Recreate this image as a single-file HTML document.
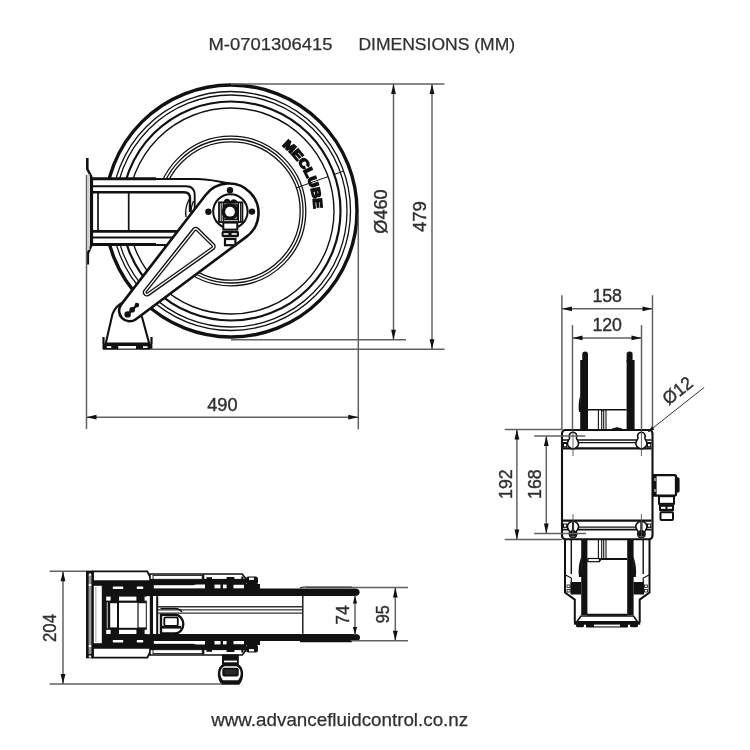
<!DOCTYPE html>
<html><head><meta charset="utf-8"><style>
html,body{margin:0;padding:0;background:#fff;}
svg{display:block;font-family:"Liberation Sans",sans-serif;will-change:transform;}
</style></head><body>
<svg width="750" height="750" viewBox="0 0 750 750">
<rect width="750" height="750" fill="#fff"/>
<circle cx="231" cy="211" r="126" fill="none" stroke="#111" stroke-width="3.4"/>
<circle cx="231" cy="211" r="119.5" fill="none" stroke="#111" stroke-width="1.3"/>
<circle cx="231" cy="211" r="116" fill="none" stroke="#111" stroke-width="1.3"/>
<circle cx="231" cy="211" r="109.5" fill="none" stroke="#111" stroke-width="2.2"/>
<circle cx="231" cy="211" r="103" fill="none" stroke="#111" stroke-width="1.4"/>
<circle cx="231" cy="211" r="74.8" fill="none" stroke="#111" stroke-width="1.3"/>
<circle cx="231" cy="211" r="72" fill="none" stroke="#111" stroke-width="1.3"/>
<circle cx="231" cy="211" r="69.2" fill="none" stroke="#111" stroke-width="1.3"/>
<line x1="296.0" y1="188.0" x2="328.1" y2="176.6" stroke="#111" stroke-width="1"/>
<line x1="334.2" y1="174.4" x2="343.6" y2="171.1" stroke="#111" stroke-width="1"/>
<path id="arcT" d="M277.30,142.36 A82.8,82.8 0 0 1 312.54,225.38" fill="none"/>
<text font-size="12.4" font-weight="bold" fill="#111" stroke="#111" stroke-width="1.5"><textPath href="#arcT" startOffset="5.5" textLength="73" lengthAdjust="spacingAndGlyphs">MECLUBE</textPath></text>
<path d="M87.3,158 V169 L91.2,176.5 V245.5 L87.8,253.5 V264.5" fill="none" stroke="#111" stroke-width="2.6"/>
<line x1="88.6" y1="174" x2="88.6" y2="250" stroke="#d0d0d0" stroke-width="2"/>
<path d="M92,179 H198 C210,179.4 220,181.5 229,183.6 L231,211 L168,245 H92 Z" fill="#fff" stroke="#111" stroke-width="2.2"/>
<line x1="91" y1="178.7" x2="156" y2="178.7" stroke="#111" stroke-width="3"/>
<line x1="91" y1="244.4" x2="156" y2="244.4" stroke="#111" stroke-width="2.8"/>
<path d="M92,186.2 H186 Q194.7,186.2 194.7,195 V212" fill="none" stroke="#111" stroke-width="1.9"/>
<path d="M92,192.2 H184 Q190,192.2 190,198 V212" fill="none" stroke="#111" stroke-width="2.4"/>
<line x1="98" y1="192" x2="98" y2="231.4" stroke="#111" stroke-width="1.7"/>
<line x1="128.7" y1="192" x2="128.7" y2="231.4" stroke="#111" stroke-width="1.7"/>
<line x1="92" y1="231.4" x2="185" y2="231.4" stroke="#111" stroke-width="2.8"/>
<line x1="92" y1="237.6" x2="185" y2="237.6" stroke="#111" stroke-width="2"/>
<path d="M189,199.5 Q184.6,208 186,217 M193.5,201 Q190.5,208 191.2,214" fill="none" stroke="#111" stroke-width="1.3"/>
<path d="M105.7,343.5 L112.5,314 Q116,305 124,302 L142,317 L149.2,343.5 Z" fill="#fff" stroke="#111" stroke-width="2.1"/>
<rect x="102.5" y="343.7" width="49.9" height="6" rx="1" fill="#111"/>
<rect x="118.3" y="346" width="17.7" height="2.6" fill="#fff"/>
<rect x="106.8" y="346.2" width="4.5" height="1.8" fill="#fff"/>
<rect x="143" y="346.2" width="4.5" height="1.8" fill="#fff"/>
<path d="M103.5,337 V344 M151.5,337 V344" stroke="#111" stroke-width="2.2"/>
<path d="M121.28,304.39 L205.64,194.99 A29.5,29.5 0 1 1 246.63,236.65 L135.88,319.22 A10.5,10.5 0 0 1 121.28,304.39 Z" fill="#fff" stroke="#111" stroke-width="2.6"/>
<polygon points="147.00,292.30 195.80,231.00 211.50,246.50" fill="none" stroke="#111" stroke-width="8.5" stroke-linejoin="round"/>
<polygon points="147.00,292.30 195.80,231.00 211.50,246.50" fill="none" stroke="#fff" stroke-width="5.7" stroke-linejoin="round"/>
<polygon points="147.00,292.30 195.80,231.00 211.50,246.50" fill="#fff" stroke="#111" stroke-width="3" stroke-linejoin="round"/>
<polygon points="147.00,292.30 195.80,231.00 211.50,246.50" fill="#fff" stroke="#fff" stroke-width="0.6" stroke-linejoin="round"/>
<line x1="127.6" y1="314.4" x2="136.9" y2="305.1" stroke="#111" stroke-width="2.2"/>
<circle cx="127.6" cy="314.4" r="3.2" fill="#111"/>
<circle cx="132.2" cy="309.7" r="2.8" fill="#111"/>
<circle cx="136.9" cy="305.1" r="2.3" fill="#111"/>
<circle cx="230.4" cy="211.4" r="17.2" fill="#fff" stroke="#111" stroke-width="2"/>
<circle cx="230" cy="190.2" r="3.2" fill="#111"/>
<circle cx="208.4" cy="211.8" r="3.2" fill="#111"/>
<circle cx="252" cy="211.6" r="3.2" fill="#111"/>
<rect x="223.3" y="222.6" width="14" height="7" fill="#fff" stroke="#111" stroke-width="2"/>
<rect x="221.6" y="230.8" width="17.4" height="6.4" rx="2" fill="#111"/>
<rect x="223.6" y="233.2" width="4.8" height="1.6" fill="#fff"/><rect x="231.6" y="233.2" width="5.2" height="1.6" fill="#fff"/>
<rect x="225" y="239" width="10.4" height="6.2" fill="#fff" stroke="#111" stroke-width="2.2"/>
<rect x="219" y="202.4" width="23.4" height="19.6" fill="#fff" stroke="#111" stroke-width="1.8"/>
<path d="M221.2,203 V221.5 M223.5,203 V221.5 M238.5,203 V221.5 M240.6,203 V221.5" stroke="#111" stroke-width="1.1"/>
<path d="M223,203.5 Q224,198.5 227.5,198.8 Q229.5,199 230.5,201 Q232,198.6 235,199.5 Q238,200.5 238.3,203.5 Z" fill="#111"/>
<circle cx="230.0" cy="211.70000000000002" r="8.4" fill="#111"/>
<rect x="223.4" y="205" width="14" height="14.5" fill="none" stroke="#111" stroke-width="1.6"/>
<circle cx="230.0" cy="211.70000000000002" r="4.9" fill="#fff"/>
<rect x="580.2" y="360" width="7.7999999999999545" height="69.5" fill="#111"/>
<rect x="582.3" y="351.6" width="5.7000000000000455" height="12" rx="2.8" fill="#111"/>
<rect x="626.6" y="360" width="8.0" height="69.5" fill="#111"/>
<rect x="626.6" y="351.6" width="6.0" height="12" rx="2.8" fill="#111"/>
<path d="M580.4,395 Q577.8,403 579,412 L581,412 Z" fill="#111"/>
<path d="M588,409.8 H601.5 Q602.4,411 603.3,409.8 H626.6" fill="none" stroke="#111" stroke-width="1.6"/>
<line x1="598.4" y1="410" x2="598.4" y2="429" stroke="#111" stroke-width="1.1"/>
<line x1="601.7" y1="410" x2="601.7" y2="429" stroke="#111" stroke-width="1.1"/>
<line x1="603.7" y1="410" x2="603.7" y2="429" stroke="#111" stroke-width="1.1"/>
<line x1="606.0" y1="410" x2="606.0" y2="429" stroke="#111" stroke-width="1.1"/>
<path d="M612,429 Q617,426.5 622,429" fill="#111" stroke="#111" stroke-width="1"/>
<rect x="562" y="430" width="90.5" height="109.2" rx="3.5" fill="#fff" stroke="#111" stroke-width="2.1"/>
<line x1="563" y1="440" x2="651.5" y2="440" stroke="#111" stroke-width="1.6"/>
<line x1="563" y1="442.6" x2="651.5" y2="442.6" stroke="#111" stroke-width="1.3"/>
<line x1="563" y1="448.4" x2="651.5" y2="448.4" stroke="#111" stroke-width="2.3"/>
<line x1="563" y1="520.7" x2="651.5" y2="520.7" stroke="#111" stroke-width="2.3"/>
<line x1="563" y1="527.1" x2="651.5" y2="527.1" stroke="#111" stroke-width="1.3"/>
<line x1="563" y1="529.6" x2="651.5" y2="529.6" stroke="#111" stroke-width="1.6"/>
<rect x="563.5" y="443.5" width="3.2" height="3.2" fill="#fff" stroke="#111" stroke-width="1"/>
<rect x="563.5" y="524" width="3.2" height="3.2" fill="#fff" stroke="#111" stroke-width="1"/>
<rect x="647.5" y="443.5" width="3.2" height="3.2" fill="#fff" stroke="#111" stroke-width="1"/>
<rect x="647.5" y="524" width="3.2" height="3.2" fill="#fff" stroke="#111" stroke-width="1"/>
<path d="M569.5,437.5 A3.8,3.8 0 1 1 576.5,437.5 Q576.2,439.3 577.6,440.5 A5.4,5.4 0 1 1 568.4,440.5 Q569.8,439.3 569.5,437.5 Z" fill="#fff" stroke="#111" stroke-width="1.6"/>
<line x1="573.0" y1="431" x2="573.0" y2="456" stroke="#555" stroke-width="0.9"/>
<path d="M569.5,532.5 A3.8,3.8 0 1 0 576.5,532.5 Q576.2,530.7 577.6,529.5 A5.4,5.4 0 1 0 568.4,529.5 Q569.8,530.7 569.5,532.5 Z" fill="#fff" stroke="#111" stroke-width="1.6"/>
<circle cx="573.0" cy="533.4" r="3.3" fill="#111"/>
<rect x="571.9" y="520" width="2.2" height="12" fill="#111"/>
<line x1="573.0" y1="514" x2="573.0" y2="539" stroke="#555" stroke-width="0.9"/>
<path d="M637.9,437.5 A3.8,3.8 0 1 1 644.9,437.5 Q644.6,439.3 646.0,440.5 A5.4,5.4 0 1 1 636.8,440.5 Q638.1999999999999,439.3 637.9,437.5 Z" fill="#fff" stroke="#111" stroke-width="1.6"/>
<line x1="641.4" y1="431" x2="641.4" y2="456" stroke="#555" stroke-width="0.9"/>
<path d="M637.9,532.5 A3.8,3.8 0 1 0 644.9,532.5 Q644.6,530.7 646.0,529.5 A5.4,5.4 0 1 0 636.8,529.5 Q638.1999999999999,530.7 637.9,532.5 Z" fill="#fff" stroke="#111" stroke-width="1.6"/>
<circle cx="641.4" cy="533.4" r="3.3" fill="#111"/>
<rect x="640.3" y="520" width="2.2" height="12" fill="#111"/>
<line x1="641.4" y1="514" x2="641.4" y2="539" stroke="#555" stroke-width="0.9"/>
<rect x="675" y="477.3" width="4.6" height="15.2" rx="1.6" fill="#111"/>
<path d="M653,475.2 H674.5 Q676,475.2 676,476.7 V494 Q676,495.6 674.5,495.6 H653" fill="#fff" stroke="#111" stroke-width="2.3"/>
<rect x="653" y="474.5" width="3.6" height="21.5" fill="#111"/>
<rect x="654.5" y="478" width="1" height="3" fill="#fff"/><rect x="654.5" y="489" width="1" height="3" fill="#fff"/>
<rect x="659" y="496.2" width="15" height="7.6" fill="#fff" stroke="#111" stroke-width="2"/>
<rect x="659" y="504.3" width="15" height="7" rx="1" fill="#111"/>
<rect x="661" y="506.8" width="4.5" height="2" fill="#fff"/><rect x="667.5" y="506.8" width="4.5" height="2" fill="#fff"/>
<rect x="660.5" y="512.3" width="12.5" height="7.6" rx="1" fill="#fff" stroke="#111" stroke-width="2"/>
<path d="M565,540 V592.6 L574.8,599.6 V622.5" fill="none" stroke="#111" stroke-width="2"/>
<path d="M649.5,540 V592.6 L639.7,599.6 V622.5" fill="none" stroke="#111" stroke-width="2"/>
<path d="M571.3,540 V574 M643.2,540 V574" stroke="#111" stroke-width="1.4"/>
<path d="M565.5,575 L571.3,578 V590 M649,575 L643.2,578 V590" fill="none" stroke="#111" stroke-width="1.2"/>
<rect x="570.5" y="582" width="10.5" height="12.5" fill="#111"/>
<rect x="633.5" y="582" width="10.5" height="12.5" fill="#111"/>
<rect x="567" y="585" width="3" height="2.5" fill="#fff" stroke="#111" stroke-width="0.8"/><rect x="567" y="589.5" width="3" height="2.5" fill="#fff" stroke="#111" stroke-width="0.8"/>
<rect x="644.5" y="585" width="3" height="2.5" fill="#fff" stroke="#111" stroke-width="0.8"/><rect x="644.5" y="589.5" width="3" height="2.5" fill="#fff" stroke="#111" stroke-width="0.8"/>
<rect x="581.2" y="540" width="6.2" height="75" fill="#111"/>
<rect x="627.2" y="540" width="6.4" height="75" fill="#111"/>
<path d="M581.5,556 Q577.5,566 579,577 L582,577 Z" fill="#111"/>
<path d="M633.3,556 Q637,566 635.8,577 L633,577 Z" fill="#111"/>
<path d="M587.4,560.5 H599.5 L601,559 H627.2" fill="none" stroke="#111" stroke-width="2"/>
<rect x="588" y="558.5" width="11.5" height="3.2" fill="#fff" stroke="#111" stroke-width="1.2"/>
<line x1="598.4" y1="540" x2="598.4" y2="558.5" stroke="#111" stroke-width="1.1"/>
<line x1="601.7" y1="540" x2="601.7" y2="558.5" stroke="#111" stroke-width="1.1"/>
<line x1="603.7" y1="540" x2="603.7" y2="558.5" stroke="#111" stroke-width="1.1"/>
<line x1="606.0" y1="540" x2="606.0" y2="558.5" stroke="#111" stroke-width="1.1"/>
<line x1="587" y1="614.7" x2="627.5" y2="614.7" stroke="#111" stroke-width="2"/>
<path d="M581,616 H633.5 L637.5,621.7 H576.8 Z" fill="#fff" stroke="#111" stroke-width="1.6"/>
<rect x="574" y="621.5" width="66.2" height="3.2" fill="#111"/>
<rect x="576" y="623.5" width="8" height="3.8" rx="1.5" fill="#111"/>
<rect x="630" y="623.5" width="8" height="3.8" rx="1.5" fill="#111"/>
<rect x="586" y="623.5" width="42" height="4" rx="1" fill="#111"/>
<rect x="594" y="624.6" width="26" height="1.8" fill="#fff"/>
<rect x="86" y="570.6" width="7.00" height="87.70" rx="0" fill="#111"/>
<rect x="88.6" y="575" width="2.80" height="79.00" rx="0" fill="#9a9a9a"/>
<rect x="88.8" y="573.5" width="2.40" height="2.00" rx="0" fill="#fff"/>
<rect x="88.8" y="584" width="2.40" height="2.00" rx="0" fill="#fff"/>
<rect x="88.8" y="645" width="2.40" height="2.00" rx="0" fill="#fff"/>
<rect x="88.8" y="655.5" width="2.40" height="2.00" rx="0" fill="#fff"/>
<rect x="93" y="579.6" width="60.00" height="69.80" rx="0" fill="#111"/>
<polygon points="93,571.4 147.3,571.4 152.4,581.2 93,581.2" fill="#fff" stroke="#111" stroke-width="1.9"/>
<polygon points="93,657.6 147.3,657.6 152.4,647.8 93,647.8" fill="#fff" stroke="#111" stroke-width="1.9"/>
<rect x="93.8" y="585.8" width="8.00" height="57.40" rx="0" fill="#fff"/>
<rect x="95.2" y="587" width="1.30" height="55.00" rx="0" fill="#bbb"/>
<rect x="112.7" y="586.4" width="10.60" height="2.60" rx="1" fill="#fff"/>
<rect x="112.7" y="640" width="10.60" height="2.60" rx="1" fill="#fff"/>
<rect x="136.7" y="586.4" width="6.60" height="2.60" rx="1" fill="#fff"/>
<rect x="136.7" y="640" width="6.60" height="2.60" rx="1" fill="#fff"/>
<rect x="106.2" y="596.6" width="4.40" height="4.00" rx="0" fill="#fff"/>
<rect x="119.0" y="596.6" width="17.40" height="4.00" rx="0" fill="#fff"/>
<rect x="144.6" y="596.6" width="4.60" height="4.00" rx="0" fill="#fff"/>
<rect x="106.2" y="629.8" width="4.40" height="4.20" rx="0" fill="#fff"/>
<rect x="119.0" y="629.8" width="17.40" height="4.20" rx="0" fill="#fff"/>
<rect x="144.6" y="629.8" width="4.60" height="4.20" rx="0" fill="#fff"/>
<rect x="110.2" y="603.2" width="6.80" height="24.20" rx="0" fill="#fff"/>
<rect x="119.0" y="602.8" width="18.40" height="25.00" rx="0" fill="#fff"/>
<rect x="138.6" y="603.2" width="7.20" height="24.20" rx="0" fill="#fff"/>
<rect x="106.7" y="602.2" width="1.20" height="26.00" rx="0" fill="#aaa"/>
<rect x="146.8" y="596.2" width="3.00" height="38.00" rx="0" fill="#fff"/>
<rect x="153.0" y="596.2" width="3.20" height="38.00" rx="0" fill="#fff"/>
<rect x="156.2" y="596.2" width="2.00" height="38.00" rx="0" fill="#111"/>
<g><path d="M150,574 H242.2 L245.2,577.8 V589.5 H150 Z" fill="#fff" stroke="#111" stroke-width="1.6"/><rect x="150" y="578.9" width="96" height="5.6" fill="#111"/><rect x="150" y="584" width="96" height="5.6" fill="#111"/><rect x="153" y="575.4" width="49.2" height="3.9" fill="#fff" stroke="#111" stroke-width="0.9"/><rect x="153.8" y="585.2" width="39.20" height="3.60" fill="#fff"/><rect x="214.5" y="584.6" width="6.00" height="4.00" fill="#fff"/><rect x="223" y="584.6" width="3.60" height="4.00" fill="#fff"/><rect x="233.5" y="584.8" width="12.00" height="3.80" fill="#fff"/><path d="M193,585.2 Q195,584.4 197,584.4 H205 V588.8 H193 Z" fill="#fff"/><rect x="202.3" y="574.5" width="2.00" height="4.50" fill="#111"/><rect x="206.5" y="577.2" width="5.50" height="2.30" fill="#111"/><rect x="226.6" y="577" width="7.80" height="2.50" fill="#111"/><rect x="241.3" y="576.5" width="2.20" height="2.50" fill="#111"/><rect x="246" y="576.4" width="12" height="8" rx="2.5" fill="#111"/><rect x="249" y="577.6" width="5" height="2.3" fill="#fff"/><rect x="244" y="584" width="16" height="5.6" fill="#111"/></g>
<g transform="translate(0 1229.0) scale(1 -1)"><path d="M150,574 H242.2 L245.2,577.8 V589.5 H150 Z" fill="#fff" stroke="#111" stroke-width="1.6"/><rect x="150" y="578.9" width="96" height="5.6" fill="#111"/><rect x="150" y="584" width="96" height="5.6" fill="#111"/><rect x="153" y="575.4" width="49.2" height="3.9" fill="#fff" stroke="#111" stroke-width="0.9"/><rect x="153.8" y="585.2" width="39.20" height="3.60" fill="#fff"/><rect x="214.5" y="584.6" width="6.00" height="4.00" fill="#fff"/><rect x="223" y="584.6" width="3.60" height="4.00" fill="#fff"/><rect x="233.5" y="584.8" width="12.00" height="3.80" fill="#fff"/><path d="M193,585.2 Q195,584.4 197,584.4 H205 V588.8 H193 Z" fill="#fff"/><rect x="202.3" y="574.5" width="2.00" height="4.50" fill="#111"/><rect x="206.5" y="577.2" width="5.50" height="2.30" fill="#111"/><rect x="226.6" y="577" width="7.80" height="2.50" fill="#111"/><rect x="241.3" y="576.5" width="2.20" height="2.50" fill="#111"/><rect x="246" y="576.4" width="12" height="8" rx="2.5" fill="#111"/><rect x="249" y="577.6" width="5" height="2.3" fill="#fff"/><rect x="244" y="584" width="16" height="5.6" fill="#111"/></g>
<path d="M150,588.6 H355 Q359.6,588.6 359.6,592.3 Q359.6,596 355,596 H150 Z" fill="#111"/>
<path d="M150,634.1 H355.5 Q360,634.1 360,637.6 Q360,641.1 355.5,641.1 H150 Z" fill="#111"/>
<path d="M300,588 Q303,586.6 307,587.2 H352 M300,641.6 H352" fill="none" stroke="#111" stroke-width="1.2"/>
<line x1="158" y1="606.7" x2="302.5" y2="606.7" stroke="#333" stroke-width="1.5"/>
<line x1="158" y1="609.9" x2="302.5" y2="609.9" stroke="#333" stroke-width="1.3"/>
<line x1="158" y1="613.1" x2="302.5" y2="613.1" stroke="#333" stroke-width="1.3"/>
<line x1="302.8" y1="596" x2="302.8" y2="633.8" stroke="#111" stroke-width="1.4"/>
<path d="M161,614.8 H175 A8.3,9.3 0 0 1 175,633.4 H161 Z" fill="#fff" stroke="#111" stroke-width="2.4"/>
<rect x="164.3" y="617.4" width="13.5" height="8.4" rx="1.5" fill="#fff" stroke="#111" stroke-width="1.8"/>
<rect x="162" y="625.8" width="19.00" height="2.80" rx="0" fill="#111"/>
<path d="M160.5,608.5 H176 Q180,609 182,612" fill="none" stroke="#111" stroke-width="1.3"/>
<rect x="161.6" y="602" width="3.40" height="4.00" rx="0" fill="#fff"/>
<rect x="222" y="654.5" width="16.80" height="10.30" rx="0" fill="#111"/>
<rect x="224" y="660.6" width="13.00" height="1.70" rx="0" fill="#fff"/>
<path d="M223.5,663.8 H237.5 C244.5,666.5 245,678.5 239.2,684.8 H221.8 C216,678.5 216.5,666.5 223.5,663.8 Z" fill="#111"/>
<path d="M224.5,666.3 H236.5 C241.5,668.5 242,676 238,680.2 H223 C219,676 219.5,668.5 224.5,666.3 Z" fill="#fff"/>
<rect x="222.3" y="667.8" width="16.40" height="8.60" rx="2" fill="#111"/>
<rect x="224.5" y="669.4" width="12.00" height="5.20" rx="1" fill="#2a2a2a"/>
<text x="208.5" y="50" font-size="17.2" fill="#303030" text-anchor="start" font-weight="normal" textLength="124" lengthAdjust="spacingAndGlyphs"  stroke="#303030" stroke-width="0.25">M-0701306415</text>
<text x="358.4" y="50" font-size="17.2" fill="#303030" text-anchor="start" font-weight="normal" textLength="156.7" lengthAdjust="spacingAndGlyphs"  stroke="#303030" stroke-width="0.25">DIMENSIONS (MM)</text>
<text x="211.2" y="725.7" font-size="18.6" fill="#303030" text-anchor="start" font-weight="normal" textLength="257" lengthAdjust="spacingAndGlyphs"  stroke="#303030" stroke-width="0.25">www.advancefluidcontrol.co.nz</text>
<line x1="231" y1="84" x2="444.4" y2="84" stroke="#626262" stroke-width="1.5" />
<line x1="231" y1="339.7" x2="406" y2="339.7" stroke="#626262" stroke-width="1.5" />
<line x1="150" y1="349.3" x2="444.5" y2="349.3" stroke="#626262" stroke-width="1.5" />
<line x1="393.5" y1="84" x2="393.5" y2="339.7" stroke="#626262" stroke-width="1.5" />
<polygon points="393.50,84.00 395.90,94.00 391.10,94.00" fill="#111"/>
<polygon points="393.50,339.70 391.10,329.70 395.90,329.70" fill="#111"/>
<line x1="432" y1="84" x2="432" y2="349.3" stroke="#626262" stroke-width="1.5" />
<polygon points="432.00,84.00 434.40,94.00 429.60,94.00" fill="#111"/>
<polygon points="432.00,349.30 429.60,339.30 434.40,339.30" fill="#111"/>
<line x1="358.3" y1="215" x2="358.3" y2="429.4" stroke="#626262" stroke-width="1.5" />
<line x1="86.5" y1="175" x2="86.5" y2="429" stroke="#626262" stroke-width="1.5" />
<line x1="86.5" y1="417.2" x2="358.3" y2="417.2" stroke="#626262" stroke-width="1.5" />
<polygon points="86.50,417.20 96.50,414.80 96.50,419.60" fill="#111"/>
<polygon points="358.30,417.20 348.30,419.60 348.30,414.80" fill="#111"/>
<text transform="translate(387.2 211.5) rotate(-90)" x="0" y="0" font-size="18.6" fill="#303030" text-anchor="middle" font-weight="normal" textLength="44.5" lengthAdjust="spacingAndGlyphs"  stroke="#303030" stroke-width="0.4">Ø460</text>
<text transform="translate(426.2 216.6) rotate(-90)" x="0" y="0" font-size="18.6" fill="#303030" text-anchor="middle" font-weight="normal" textLength="31" lengthAdjust="spacingAndGlyphs"  stroke="#303030" stroke-width="0.4">479</text>
<text x="222.4" y="411.4" font-size="18.5" fill="#303030" text-anchor="middle" font-weight="normal" textLength="30.4" lengthAdjust="spacingAndGlyphs"  stroke="#303030" stroke-width="0.4">490</text>
<line x1="561.9" y1="295.2" x2="561.9" y2="430" stroke="#626262" stroke-width="1.5" />
<line x1="652.5" y1="295.2" x2="652.5" y2="430" stroke="#626262" stroke-width="1.5" />
<line x1="561.9" y1="308.8" x2="652.5" y2="308.8" stroke="#626262" stroke-width="1.5" />
<polygon points="561.90,308.80 571.90,306.40 571.90,311.20" fill="#111"/>
<polygon points="652.50,308.80 642.50,311.20 642.50,306.40" fill="#111"/>
<line x1="572.5" y1="325.1" x2="572.5" y2="430" stroke="#626262" stroke-width="1.5" />
<line x1="641.5" y1="325.1" x2="641.5" y2="430" stroke="#626262" stroke-width="1.5" />
<line x1="572.5" y1="337.9" x2="641.5" y2="337.9" stroke="#626262" stroke-width="1.5" />
<polygon points="572.50,337.90 582.50,335.50 582.50,340.30" fill="#111"/>
<polygon points="641.50,337.90 631.50,340.30 631.50,335.50" fill="#111"/>
<text x="607.2" y="302" font-size="17.6" fill="#303030" text-anchor="middle" font-weight="normal" textLength="29.6" lengthAdjust="spacingAndGlyphs"  stroke="#303030" stroke-width="0.4">158</text>
<text x="607.2" y="331.2" font-size="17.6" fill="#303030" text-anchor="middle" font-weight="normal" textLength="29.6" lengthAdjust="spacingAndGlyphs"  stroke="#303030" stroke-width="0.4">120</text>
<line x1="504.7" y1="429.5" x2="562" y2="429.5" stroke="#626262" stroke-width="1.5" />
<line x1="504.7" y1="539.6" x2="562" y2="539.6" stroke="#626262" stroke-width="1.5" />
<line x1="516.9" y1="429.5" x2="516.9" y2="539.6" stroke="#626262" stroke-width="1.5" />
<polygon points="516.90,429.50 519.30,439.50 514.50,439.50" fill="#111"/>
<polygon points="516.90,539.60 514.50,529.60 519.30,529.60" fill="#111"/>
<line x1="534.2" y1="436.1" x2="585.3" y2="436.1" stroke="#626262" stroke-width="1.5" />
<line x1="534.2" y1="533.5" x2="586" y2="533.5" stroke="#626262" stroke-width="1.5" />
<line x1="546.3" y1="436.1" x2="546.3" y2="533.5" stroke="#626262" stroke-width="1.5" />
<polygon points="546.30,436.10 548.70,446.10 543.90,446.10" fill="#111"/>
<polygon points="546.30,533.50 543.90,523.50 548.70,523.50" fill="#111"/>
<text transform="translate(511.7 484.2) rotate(-90)" x="0" y="0" font-size="17.8" fill="#303030" text-anchor="middle" font-weight="normal" textLength="29.5" lengthAdjust="spacingAndGlyphs"  stroke="#303030" stroke-width="0.4">192</text>
<text transform="translate(541.1 484.2) rotate(-90)" x="0" y="0" font-size="17.8" fill="#303030" text-anchor="middle" font-weight="normal" textLength="29.5" lengthAdjust="spacingAndGlyphs"  stroke="#303030" stroke-width="0.4">168</text>
<line x1="648.5" y1="431.5" x2="704.2" y2="387.4" stroke="#333" stroke-width="1.0" />
<polygon points="647.60,432.30 651.85,426.39 654.33,429.53" fill="#111"/>
<text transform="translate(681.5 395.5) rotate(-38.4)" x="0" y="0" font-size="18.2" fill="#303030" text-anchor="middle" font-weight="normal" textLength="33" lengthAdjust="spacingAndGlyphs"  stroke="#303030" stroke-width="0.4">Ø12</text>
<line x1="49.6" y1="571.3" x2="86" y2="571.3" stroke="#626262" stroke-width="1.5" />
<line x1="49.6" y1="684.0" x2="222" y2="684.0" stroke="#626262" stroke-width="1.5" />
<line x1="63.0" y1="571.3" x2="63.0" y2="684.0" stroke="#626262" stroke-width="1.5" />
<polygon points="63.00,571.30 65.40,581.30 60.60,581.30" fill="#111"/>
<polygon points="63.00,684.00 60.60,674.00 65.40,674.00" fill="#111"/>
<text transform="translate(56.1 628) rotate(-90)" x="0" y="0" font-size="17.8" fill="#303030" text-anchor="middle" font-weight="normal" textLength="28" lengthAdjust="spacingAndGlyphs"  stroke="#303030" stroke-width="0.4">204</text>
<line x1="350.7" y1="587.6" x2="408" y2="587.6" stroke="#626262" stroke-width="1.5" />
<line x1="350.7" y1="640.7" x2="408" y2="640.7" stroke="#626262" stroke-width="1.5" />
<line x1="395.3" y1="587.6" x2="395.3" y2="640.7" stroke="#626262" stroke-width="1.5" />
<polygon points="395.30,587.60 397.70,597.60 392.90,597.60" fill="#111"/>
<polygon points="395.30,640.70 392.90,630.70 397.70,630.70" fill="#111"/>
<line x1="355" y1="595.5" x2="355" y2="635.0" stroke="#626262" stroke-width="1.5" />
<polygon points="355.00,595.50 357.10,603.50 352.90,603.50" fill="#111"/>
<polygon points="355.00,635.00 352.90,627.00 357.10,627.00" fill="#111"/>
<text transform="translate(348.7 615) rotate(-90)" x="0" y="0" font-size="17.8" fill="#303030" text-anchor="middle" font-weight="normal" textLength="19.4" lengthAdjust="spacingAndGlyphs"  stroke="#303030" stroke-width="0.4">74</text>
<text transform="translate(389.3 614.3) rotate(-90)" x="0" y="0" font-size="17.8" fill="#303030" text-anchor="middle" font-weight="normal" textLength="18.0" lengthAdjust="spacingAndGlyphs"  stroke="#303030" stroke-width="0.4">95</text>
</svg></body></html>
